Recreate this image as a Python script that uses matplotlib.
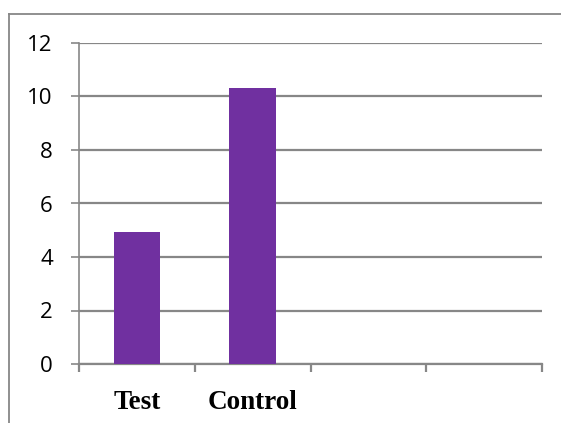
import numpy as np
import matplotlib
matplotlib.use("Agg")
import matplotlib.pyplot as plt
from matplotlib.lines import Line2D

# data
categories = ["Test", "Control", "", ""]
values = [4.93, 10.32, None, None]
y_ticks = [0, 2, 4, 6, 8, 10, 12]

grey = "#878787"
purple = "#7030A0"

fig = plt.figure(figsize=(5.61, 4.23), dpi=100)
ax = fig.add_axes([79 / 561, 59 / 423, 463 / 561, 321 / 423])

x = np.arange(len(categories))
xs = [i for i, v in zip(x, values) if v is not None]
hs = [v for v in values if v is not None]
ax.bar(xs, hs, width=0.4, color=purple, zorder=3)

ax.set_xlim(-0.5, len(categories) - 0.5)
ax.set_ylim(0, 12)
ax.set_yticks(y_ticks)
ax.set_yticklabels([str(t) for t in y_ticks], fontfamily="Open Sans", fontsize=16)
ax.yaxis.grid(True, color=grey, linewidth=1.6, zorder=0)
ax.tick_params(axis="y", length=5.8, width=1.2, color=grey, pad=13)

# labels sit in the middle of each slot, tick marks at slot edges
ax.set_xticks(x)
ax.set_xticklabels(categories, fontfamily="Liberation Serif", fontweight="bold", fontsize=19.5)
ax.set_xticks(np.arange(len(categories) + 1) - 0.5, minor=True)
ax.tick_params(axis="x", which="major", length=0, pad=19)
ax.tick_params(axis="x", which="minor", length=6, width=1.6, color=grey)

for s in ["top", "right"]:
    ax.spines[s].set_visible(False)
for s in ["left", "bottom"]:
    ax.spines[s].set_color(grey)
    ax.spines[s].set_linewidth(1.6)
ax.spines["left"].set_linewidth(1.2)

# outer chart frame (only left and top edges fall inside the picture)
fx = 8.5 / 561
fy = 1 - 14.5 / 423
fig.add_artist(Line2D([fx, fx], [0, fy], color=grey, linewidth=1.3, transform=fig.transFigure))
fig.add_artist(Line2D([fx, 1], [fy, fy], color=grey, linewidth=1.3, transform=fig.transFigure))

fig.savefig("out.png", dpi=100)
